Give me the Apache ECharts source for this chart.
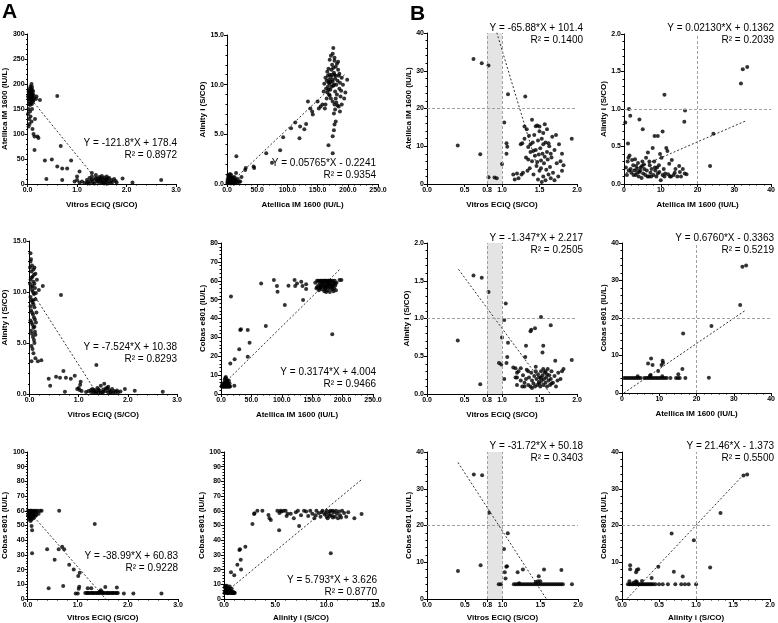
<!DOCTYPE html>
<html><head><meta charset="utf-8">
<script src="https://cdn.jsdelivr.net/npm/echarts@6/dist/echarts.min.js"></script>
<style>html,body{margin:0;padding:0;background:#fff}#c{width:778px;height:623px}</style>
</head><body><div id="c"></div>
<script>
// ---------------- DATA ----------------
// Panel A1: Vitros ECiQ (S/CO) vs Atellica IM 1600 (IU/L)
const A1_POINTS = [[0.02,185],[0.03,178],[0.04,172],[0.05,180],[0.06,175],[0.07,168],[0.08,183],[0.09,176],[0.10,170],[0.11,165],[0.03,160],[0.05,158],[0.02,170],[0.04,190],[0.06,195],[0.08,200],[0.10,188],[0.12,178],[0.13,172],[0.07,162],[0.01,175],[0.09,160],[0.11,185],[0.04,165],[0.06,170],[0.08,174],[0.10,179],[0.12,168],[0.05,186],[0.03,182],[0.07,190],[0.09,194],[0.02,150],[0.01,140],[0.03,130],[0.04,120],[0.02,115],[0.05,145],[0.06,135],[0.08,125],[0.10,110],[0.12,100],[0.14,95],[0.15,130],[0.17,170],[0.18,175],[0.25,168],[0.20,95],[0.22,92],[0.14,68],[0.09,150],
[0.6,176],[0.67,76],[0.35,47],[0.49,49],[0.6,35],[0.7,31],[0.8,31],[0.88,47],[0.38,10],[0.7,8],[1.0,15],[1.05,25],[0.95,5],[1.0,8],[1.3,22],
[1.05,3],[1.1,5],[1.15,2],[1.2,8],[1.22,4],[1.25,12],[1.28,6],[1.3,15],[1.32,3],[1.35,9],[1.38,18],[1.4,5],[1.42,11],[1.45,2],[1.45,14],[1.48,7],[1.5,4],[1.5,16],[1.52,10],[1.55,6],[1.55,13],[1.58,3],[1.6,8],[1.6,15],[1.62,11],[1.65,5],[1.65,12],[1.68,2],[1.7,8],[1.72,4],[1.75,10],[1.78,6],[1.8,3],[1.35,1],[1.25,1],[1.45,9],[1.55,1],[1.38,12],[1.48,12],[1.58,9],[1.42,6],[1.52,2],[1.62,1],[1.3,9],[1.2,2],
[1.92,11],[2.12,3],[2.7,8]];
// Panel A2: Atellica IM 1600 (IU/L) vs Alinity i (S/CO)
const A2_POINTS = [[0.5,0.2],[1,0.5],[2,0.8],[3,0.3],[4,0.1],[5,0.6],[6,0.4],[7,0.9],[8,0.2],[9,0.5],[10,0.1],[11,0.3],[12,0.7],[13,0.2],[14,0.4],[15,1.1],[2,0.1],[3,0.6],[4,0.3],[5,0.2],[6,0.05],[7,0.4],[8,0.6],[9,0.15],[10,0.35],[1,0.05],[2,0.35],[3,0.9],[16,0.3],[17,0.15],[18,0.5],[20,0.2],[12,0.05],[14,0.15],[6,0.7],[5,1.0],[11,0.6],[13,0.45],[24,0.7],[22,0.25],
[162,7.6],[163,8.0],[165,8.6],[166,9.2],[167,9.8],[168,10.2],[169,10.5],[170,11.0],[171,9.5],[172,10.8],[173,11.5],[174,12.0],[175,10.3],[176,9.9],[177,11.2],[178,12.4],[179,10.6],[180,11.8],[181,10.0],[182,9.0],[183,10.4],[184,11.5],[185,10.9],[186,9.6],[187,10.2],[188,8.8],[189,9.4],[190,10.7],[192,10.0],[194,8.6],[196,9.2],[199,10.5],[170,12.5],[172,12.9],[175,13.1],[176,13.7],[178,12.7],[174,11.0],[171,10.3],[173,9.8],[169,9.0],[167,10.9],[165,10.4],[164,9.6],[168,11.6],[177,10.0],[179,9.3],[180,8.6],[181,8.2],[183,7.9],[178,8.0],[175,8.3],[172,8.6],[170,8.9],[166,11.3],[160,9.3],[158,8.0],[155,7.8],[150,8.3],[152,7.6],[163,10.7],[161,10.1],[185,7.8],[184,12.3],[182,12.1],[180,10.9],[176,11.7],[174,10.5],[170,10.1],[168,9.5],[178,11.0],[186,11.1],
[15.5,2.8],[30,1.4],[31,1.6],[44,1.75],[45,1.6],[74.5,2.15],[65,3.1],[88,3.4],[93,4.7],[106,5.6],[113,6.2],[120,4.6],[121,5.8],[128,5.5],[131,6.05],[134,8.3],[138,7.6],[141,7.3],[142,7.0],[168,3.9],[175,4.8],[177,5.4],[178,6.0],[180,6.3],[175,3.1],[177,7.1],[179,7.5],[190,8.0],[187,7.3]];
// Panel A3: Vitros ECiQ (S/CO) vs Alinity i (S/CO)
const A3_POINTS = [[0.02,13.8],[0.03,13.2],[0.05,12.6],[0.04,12.0],[0.06,11.5],[0.02,11.2],[0.08,11.0],[0.1,10.8],[0.03,10.5],[0.05,10.2],[0.07,10.0],[0.09,9.8],[0.02,9.5],[0.04,9.2],[0.06,9.0],[0.08,8.8],[0.1,8.5],[0.03,8.2],[0.05,8.0],[0.07,7.8],[0.09,7.5],[0.02,7.2],[0.04,7.0],[0.06,6.8],[0.08,6.5],[0.03,6.2],[0.05,5.9],[0.07,5.6],[0.09,5.3],[0.11,6.1],[0.12,5.8],[0.1,5.0],[0.04,4.7],[0.06,4.4],[0.08,4.0],[0.12,3.5],[0.04,3.2],[0.17,3.2],[0.24,3.3],[0.1,12.4],[0.12,11.8],[0.11,10.4],[0.13,9.9],[0.12,9.3],[0.14,8.0],[0.11,7.3],[0.13,7.0],[0.01,10.8],[0.01,12.4],[0.15,11.2],[0.19,10.2],[0.27,10.6],[0.08,12.2],[0.06,10.6],[0.04,11.4],[0.09,11.7],[0.02,8.6],[0.07,9.2],[0.1,6.6],[0.02,13.0],
[0.64,9.7],
[0.39,1.5],[0.42,0.8],[0.54,1.7],[0.62,1.6],[0.69,2.25],[0.74,1.6],[0.84,1.5],[0.92,1.8],[0.72,0.23],[0.97,0.5],[1.0,0.6],[1.04,1.2],[1.03,0.9],[1.06,0.3],[1.02,0.4],[1.36,2.85],
[1.2,0.3],[1.25,0.2],[1.28,0.5],[1.3,0.1],[1.32,0.4],[1.35,0.25],[1.38,0.6],[1.4,0.15],[1.42,0.35],[1.45,0.8],[1.48,0.2],[1.5,0.45],[1.52,1.0],[1.55,0.3],[1.58,0.6],[1.6,0.15],[1.62,0.4],[1.65,0.25],[1.68,0.5],[1.7,0.1],[1.72,0.3],[1.75,0.2],[1.78,0.35],[1.8,0.15],[1.85,0.25],[1.3,0.3],[1.4,0.45],[1.5,0.2],[1.6,0.7],[1.45,0.1],[1.55,0.55],[1.35,0.1],[1.25,0.4],[1.15,0.2],[1.65,0.1],
[1.94,0.5],[2.14,0.33],[2.71,0.23]];
// Panel A4: Atellica IM 1600 (IU/L) vs Cobas e801 (IU/L)
const A4_POINTS = [[1,4],[2,4],[3,4],[4,4],[5,4],[6,4],[7,4],[8,4],[9,4],[10,4],[11,4],[12,4],[13,4],[14,4],[15,4],[3,5],[5,6],[6,7.5],[7,8.5],[8,9],[9,8],[10,7.2],[11,6],[12,5],[4,4.5],[6,5.5],[8,6.5],[10,5],[13,7],[14,5.5],[2,5],[7,6],[9,5.5],
[16.4,51.6],[15.3,16.2],[22.4,18.4],[22,4.4],[30,23.7],[31.7,33.9],[32.8,34.3],[44,19.8],[44,33.9],[47,27.2],[66,58.6],[73.7,36],[87,60.4],[92,57.2],[93,54.2],[105,47.2],[111,57.4],[121,60.4],[122,57.2],[125,58.6],[132,59.5],[134,57.2],[135,49.8],[140,58.1],[140,55.6],[183,31.6],[195,60.4],[198,60.4],
[155,59],[157,56],[158,60],[160,57.5],[161,55],[162,59],[163,60],[164,56.5],[165,58],[166,55.5],[167,60],[168,57],[169,59],[170,54.5],[170,60],[171,58],[172,56],[173,60],[174,57.5],[175,55],[175,59],[176,60],[177,56.5],[178,58.5],[179,54],[180,60],[181,57],[182,59],[183,55.5],[184,60],[185,58],[186,56],[187,60],[188,57.5],[189,55],[190,59],[172,60],[178,60],[168,60],[164,60],[174,59.5],[176,58],[180,56],[182,57.5],[170,57],[166,58.5],[186,59],[184,57],[160,60],[158,56.5],[163,57],[177,60],[181,60],[179,58],[171,55.5],[173,54],[185,54.5],[188,58.5],[162,56],[175,57]];
// Panel A5: Vitros ECiQ (S/CO) vs Cobas e801 (IU/L)
const A5_POINTS = [[0.01,60],[0.02,58],[0.03,56],[0.04,59],[0.05,55],[0.06,57],[0.07,60],[0.08,54],[0.09,58],[0.1,56],[0.11,59],[0.12,57],[0.13,60],[0.14,58],[0.15,56.5],[0.16,60],[0.18,59],[0.2,60],[0.22,58],[0.25,60],[0.28,60],[0.02,54],[0.04,56],[0.06,53],[0.08,58.5],[0.03,60],[0.05,59],[0.07,55.5],[0.09,60],[0.1,57.5],[0.12,55],[0.14,59.5],[0.17,57],[0.01,57],[0.06,60],[0.11,56],
[0.08,49.6],[0.09,46.7],[0.09,31.1],[0.39,33.8],[0.42,7.3],[0.54,26.7],[0.63,60],[0.62,33.8],[0.69,35.6],[0.73,33.8],[0.71,8.9],[0.83,23.3],[0.92,20],[0.96,3.8],[1.0,3.8],[1.01,15.6],[1.04,17.8],[1.03,8.4],[1.02,7],[1.34,51.1],[1.2,7.3],[1.27,7.3],[1.46,6],[1.55,8.2],[1.78,7.8],[1.92,3.8],[2.11,3.8],[2.67,3.8],
[1.15,4],[1.18,4],[1.2,4],[1.22,4],[1.25,4],[1.28,4],[1.3,4],[1.32,4],[1.35,4],[1.38,4],[1.4,4],[1.42,4],[1.45,4],[1.48,4],[1.5,4],[1.52,4],[1.55,4],[1.58,4],[1.6,4],[1.62,4],[1.65,4],[1.68,4],[1.7,4],[1.72,4],[1.75,4],[1.78,4],[1.8,4],[1.44,5],[1.48,5]];
// Panel A6: Alinity i (S/CO) vs Cobas e801 (IU/L)
const A6_POINTS = [[0.05,4],[0.1,5],[0.15,7],[0.2,8],[0.25,4],[0.3,6],[0.35,4],[0.4,7.5],[0.45,4],[0.5,5.5],[0.55,8.5],[0.6,4],[0.65,6],[0.7,4],[0.75,7],[0.8,4],[0.85,5],[0.9,4],[0.95,4],[1.0,4.5],[1.05,4],[0.12,9],[0.22,6],[0.32,5],[0.42,4],[0.62,5],[0.08,8],[0.28,9],[0.48,7],
[0.68,18.2],[1.0,16.2],[1.3,23.3],[1.5,33.3],[1.56,33.8],[1.63,26.7],[1.66,20],[2.08,35.6],[2.77,51.1],[2.93,57.8],[2.97,58.4],[3.25,60],[3.74,60],[4.33,57.1],[4.43,54.9],[4.56,53.8],[5.37,46.7],[7.32,49.6],[10.4,31.1],[12.7,54.9],[13.4,57.8],[6.5,58],[6.0,60],
[5.2,60],[5.4,58.5],[5.6,59.5],[5.8,60],[6.2,58],[6.8,55],[7.0,59],[7.5,57],[7.8,60],[8.0,59.5],[8.2,56.5],[8.4,60],[8.6,58],[8.8,55],[9.0,60],[9.2,58.5],[9.4,56],[9.6,60],[9.8,57.5],[10.0,60],[10.1,55],[10.2,58],[10.3,56.5],[10.4,60],[10.5,57],[10.6,55.5],[10.7,59],[10.8,56],[10.9,60],[11.0,58],[11.1,55],[11.2,59.5],[11.3,57],[11.5,60],[11.7,58.5],[11.9,56],[12.1,59],[9.5,59],[10.0,56],[10.6,60],[9.9,58.5],[8.9,57],[11.4,55.5],[10.3,59.5],[7.2,60],[5.5,60],[6.1,56.5]];
// Panel B1: Vitros ECiQ (S/CO) vs Atellica IM 1600 (IU/L), low range
const B1_POINTS = [[0.41,10.2],[0.62,33.1],[0.73,32.0],[0.82,31.4],[0.71,7.9],[0.82,1.8],[0.9,1.7],[0.93,1.5],[1.0,5.3],[1.03,16.3],[1.06,10.8],[1.06,8.0],[1.08,23.8],[1.07,9.9],[1.31,23.2],
[1.2,2.8],[1.22,1.5],[1.25,10.5],[1.27,10.8],[1.28,3.0],[1.3,15.2],[1.3,12.0],[1.32,7.0],[1.33,14.5],[1.34,3.5],[1.35,9.8],[1.36,12.8],[1.37,4.2],[1.38,8.5],[1.4,17.0],[1.4,6.0],[1.41,11.0],[1.42,2.5],[1.43,13.0],[1.44,7.5],[1.45,9.0],[1.46,4.8],[1.47,15.5],[1.48,1.2],[1.48,11.5],[1.49,7.8],[1.5,3.5],[1.5,14.0],[1.51,9.5],[1.52,6.2],[1.53,0.5],[1.53,12.0],[1.54,8.0],[1.55,2.0],[1.55,10.5],[1.56,5.5],[1.57,15.8],[1.57,7.2],[1.58,1.0],[1.58,11.0],[1.59,3.8],[1.6,14.5],[1.6,8.5],[1.61,6.5],[1.62,2.5],[1.63,10.0],[1.64,4.5],[1.65,1.5],[1.66,7.0],[1.67,12.5],[1.68,3.0],[1.7,9.0],[1.72,13.0],[1.73,5.5],[1.75,2.0],[1.76,10.5],[1.78,6.0],[1.8,8.0],[1.8,3.5],[1.82,5.0],[1.93,12.0],[1.45,15.3],[1.5,15.2],[1.55,13.5],[1.15,2.5],[1.17,1.2],[1.35,6.5],[1.42,8.8],[1.52,4.2],[1.47,5.8],[1.62,10.8],[1.38,10.5],[1.7,1.0],[1.65,8.0],[1.26,2.5]];
// Panel B2: Atellica IM 1600 (IU/L) vs Alinity i (S/CO), low range
const B2_POINTS = [[0.36,0.82],[1.08,0.54],[1.35,1.0],[1.7,0.91],[4.2,0.86],[5.1,0.73],[8.3,0.64],[9.2,0.64],[10.5,0.7],[11.0,1.19],[16.4,0.83],[16.6,0.98],[24.3,0.67],[23.4,0.24],[31.8,1.34],[32.3,1.53],[33.5,1.56],
[0.5,0.22],[0.8,0.12],[1.0,0.3],[1.2,0.35],[1.5,0.38],[1.8,0.2],[2.0,0.15],[2.2,0.32],[2.5,0.25],[2.8,0.18],[3.0,0.33],[3.2,0.12],[3.5,0.2],[3.8,0.28],[4.0,0.1],[4.2,0.16],[4.5,0.22],[4.8,0.08],[5.0,0.3],[5.2,0.14],[5.5,0.2],[5.8,0.12],[6.0,0.35],[6.2,0.18],[6.5,0.42],[6.8,0.1],[7.0,0.25],[7.2,0.15],[7.5,0.2],[7.8,0.48],[8.0,0.12],[8.2,0.3],[8.5,0.18],[8.8,0.1],[9.0,0.22],[9.2,0.14],[9.5,0.25],[9.8,0.4],[10.0,0.05],[10.2,0.35],[10.5,0.12],[10.8,0.2],[11.0,0.1],[11.5,0.48],[11.8,0.44],[12.0,0.13],[12.3,0.27],[12.5,0.1],[13.0,0.32],[13.5,0.12],[14.0,0.2],[14.5,0.1],[15.0,0.24],[15.2,0.16],[15.5,0.1],[16.0,0.2],[16.5,0.14],[17.0,0.13],[3.3,0.24],[4.4,0.18],[5.4,0.26],[6.4,0.1],[7.4,0.1],[8.4,0.22],[2.6,0.12],[1.3,0.18],[9.6,0.16],[11.2,0.14],[12.8,0.1],[13.8,0.15],[6.9,0.3],[3.6,0.15],[4.9,0.24]];
// Panel B3: Vitros ECiQ (S/CO) vs Alinity i (S/CO), low range
const B3_POINTS = [[0.41,0.71],[0.62,1.57],[0.73,1.54],[0.71,0.13],[0.82,1.35],[0.96,0.41],[0.99,0.39],[1.0,0.75],[1.03,0.98],[1.05,1.2],[1.03,0.2],[1.06,0.41],[1.07,0.49],[1.08,0.68],[1.18,0.34],[1.2,0.28],[1.32,0.64],[1.31,0.49],[1.38,0.83],[1.39,0.85],[1.44,0.87],[1.52,1.02],[1.55,0.64],[1.54,0.55],[1.65,0.91],[1.71,0.44],[1.93,0.45],
[1.15,0.35],[1.18,0.22],[1.2,0.12],[1.22,0.3],[1.25,0.18],[1.27,0.1],[1.28,0.25],[1.3,0.15],[1.32,0.2],[1.33,0.32],[1.35,0.12],[1.36,0.22],[1.38,0.1],[1.39,0.28],[1.4,0.18],[1.42,0.14],[1.43,0.24],[1.44,0.1],[1.45,0.3],[1.46,0.2],[1.47,0.12],[1.48,0.26],[1.49,0.16],[1.5,0.22],[1.51,0.1],[1.52,0.3],[1.53,0.18],[1.54,0.25],[1.55,0.12],[1.56,0.2],[1.57,0.28],[1.58,0.15],[1.59,0.22],[1.6,0.1],[1.61,0.33],[1.62,0.18],[1.63,0.25],[1.64,0.12],[1.65,0.2],[1.66,0.3],[1.68,0.15],[1.7,0.24],[1.72,0.1],[1.74,0.18],[1.75,0.28],[1.78,0.2],[1.8,0.3],[1.82,0.33],[1.25,0.34],[1.35,0.3],[1.45,0.36],[1.55,0.33],[1.4,0.08],[1.5,0.14],[1.6,0.26],[1.3,0.1],[1.2,0.22],[1.52,0.22],[1.58,0.3],[1.66,0.14]];
// Panel B4: Atellica IM 1600 (IU/L) vs Cobas e801 (IU/L), low range
const B4_POINTS = [[0.5,4],[1,4],[1.5,4],[2,4],[2.5,4],[3,4],[3.5,4],[4,4],[4.5,4],[5,4],[6,4],[6.5,4],[7,4],[7.5,4],[8,4],[8.5,4],[9,4],[9.5,4],[10,4],[10.5,4],[11,4],[11.5,4],[12,4],[13,4],[14.5,4],[15,4],[15.5,4],[17,4],[4.2,4.5],[7.5,4.6],
[7.0,7.9],[7.8,9.2],[8.2,7.5],[7.7,4.8],[9.7,5.9],[10.9,8.6],[10.6,7.5],[11.0,8.1],[10.8,4.5],[15.1,5.0],[16.2,6.4],[16.4,15.9],[24.0,17.9],[23.3,4.1],[31.7,23.5],[32.3,33.7],[33.3,34.0]];
// Panel B5: Vitros ECiQ (S/CO) vs Cobas e801 (IU/L), low range
const B5_POINTS = [[0.41,7.6],[0.62,33.9],[0.73,33.7],[0.71,9.2],[0.82,23.5],[0.95,4.0],[0.98,4.0],[1.02,13.6],[1.07,17.9],[1.03,7.3],[1.04,5.6],[1.05,8.8],[1.06,8.9],[1.2,7.3],[1.22,4.3],[1.27,8.0],[1.48,6.2],[1.55,8.0],[1.78,7.9],[1.92,4.0],[1.44,4.6],[1.47,4.8],[1.5,4.8],
[1.15,4],[1.175,4],[1.2,4],[1.225,4],[1.25,4],[1.275,4],[1.3,4],[1.325,4],[1.35,4],[1.375,4],[1.4,4],[1.425,4],[1.45,4],[1.475,4],[1.5,4],[1.525,4],[1.55,4],[1.575,4],[1.6,4],[1.625,4],[1.65,4],[1.675,4],[1.7,4],[1.725,4],[1.75,4],[1.775,4],[1.8,4]];
// Panel B6: Alinity i (S/CO) vs Cobas e801 (IU/L), low range
const B6_POINTS = [[0.08,4],[0.1,4],[0.12,4],[0.14,4],[0.16,4],[0.18,4],[0.2,4],[0.22,4],[0.24,4],[0.26,4],[0.28,4],[0.3,4],[0.32,4],[0.34,4],[0.36,4],[0.38,4],[0.4,4],[0.42,4],[0.45,4],[0.5,4],[0.55,4],[0.62,4],[0.72,4],[0.8,4],[0.85,4],[0.9,4],[1.0,4],[0.1,4.8],[0.16,4.5],[0.2,4.6],
[0.11,9.2],[0.11,8.1],[0.19,7.3],[0.2,7.9],[0.22,8.1],[0.19,4.8],[0.27,4.9],[0.4,5.7],[0.49,8.8],[0.67,17.8],[0.7,7.4],[0.82,6.1],[0.97,16.0],[1.19,8.6],[1.33,23.4],[1.64,33.6],[1.69,33.9]];

// regression: slope, intercept, fitted x-range start, end
const FIT_SLOPE     = [-121.8, 0.05765, -7.524, 0.3174, -38.99, 5.793, -65.88, 0.02130, -1.347, 0.6760, -31.72, 21.46];
const FIT_INTERCEPT = [178.4, -0.2241, 10.38, 4.004, 60.83, 3.626, 101.4, 0.1362, 2.217, -0.3363, 50.18, -1.373];
const FIT_XSTART    = [0.08, 0, 0.07, 5, 0.08, 0.6, 0.93, 0.5, 0.42, 0.5, 0.41, 0.07];
const FIT_XEND      = [1.3, 197, 1.3, 197, 1.56, 13.5, 1.47, 33.3, 1.64, 33.1, 1.58, 1.62];
const EQ_TEXT = ['Y = -121.8*X + 178.4','Y = 0.05765*X - 0.2241','Y = -7.524*X + 10.38','Y = 0.3174*X + 4.004','Y = -38.99*X + 60.83','Y = 5.793*X + 3.626',
                 'Y = -65.88*X + 101.4','Y = 0.02130*X + 0.1362','Y = -1.347*X + 2.217','Y = 0.6760*X - 0.3363','Y = -31.72*X + 50.18','Y = 21.46*X - 1.373'];
const R2_TEXT = ['R² = 0.8972','R² = 0.9354','R² = 0.8293','R² = 0.9466','R² = 0.9228','R² = 0.8770',
                 'R² = 0.1400','R² = 0.2039','R² = 0.2505','R² = 0.5219','R² = 0.3403','R² = 0.5500'];
const X_NAMES = ['Vitros ECiQ (S/CO)','Atellica IM 1600 (IU/L)','Vitros ECiQ (S/CO)','Atellica IM 1600 (IU/L)','Vitros ECiQ (S/CO)','Alinity i (S/CO)',
                 'Vitros ECiQ (S/CO)','Atellica IM 1600 (IU/L)','Vitros ECiQ (S/CO)','Atellica IM 1600 (IU/L)','Vitros ECiQ (S/CO)','Alinity i (S/CO)'];
const Y_NAMES = ['Atellica IM 1600 (IU/L)','Alinity i (S/CO)','Alinity i (S/CO)','Cobas e801 (IU/L)','Cobas e801 (IU/L)','Cobas e801 (IU/L)',
                 'Atellica IM 1600 (IU/L)','Alinity i (S/CO)','Alinity i (S/CO)','Cobas e801 (IU/L)','Cobas e801 (IU/L)','Cobas e801 (IU/L)'];
// axis ranges: [min, max, interval, decimals]
const X_AXES = [[0,3,1,1],[0,250,50,1],[0,3,1,1],[0,250,50,1],[0,3,1,1],[0,15,5,1],
                [0,2,0.5,1],[0,40,10,0],[0,2,0.5,1],[0,40,10,0],[0,2,0.5,1],[0,2,0.5,1]];
const Y_AXES = [[0,300,50,0],[0,15,5,1],[0,15,5,1],[0,80,10,0],[0,100,10,0],[0,100,10,0],
                [0,40,10,0],[0,2,0.5,1],[0,2,0.5,1],[0,40,10,0],[0,40,10,0],[0,40,10,0]];
const VITROS_TICKS = [0, 0.5, 0.8, 1.0, 1.5, 2.0];
const GREY_ZONE = [0.8, 1.0];
// reference cut-offs for B panels
const REF_X = [null,null,null,null,null,null, null, 20, null, 20, null, 1.0];
const REF_Y = [null,null,null,null,null,null, 20, 1.0, 1.0, 20, 20, 20];
const HAS_ZONE = [false,false,false,false,false,false, true,false,true,false,true,false];
const ALL_POINTS = [A1_POINTS,A2_POINTS,A3_POINTS,A4_POINTS,A5_POINTS,A6_POINTS,B1_POINTS,B2_POINTS,B3_POINTS,B4_POINTS,B5_POINTS,B6_POINTS];

// ---------------- LAYOUT ----------------
const GRIDS = [[26,34,150,150],[227,35,151,149],[26,241,151,153],[221,243,152,151],[26,452,152,150],[224,452,154,150],
               [427,33,150,151],[624,34,148,150],[427,243,150,151],[622,243,150,150],[427,452,151,150],[622,452,151,149]];
const Y_NAME_GAP = [14,16,15,11,15,14, 10,12,11,12,10,12];
const X_NAME_GAP = [17,17,17,17,17,17, 15,15,15,15,15,15];
const X_NAME_GAP_ROW3 = 15;
const EQ_POS = [[177,143],[376,163],[177,347],[376,372],[178,556],[377,580],
                [583,28],[774,28],[583,238],[774,238],[583,446],[774,446]];
const FONT = '"Liberation Sans", Arial, sans-serif';

const option = {backgroundColor:'#fff', animation:false, grid:[], xAxis:[], yAxis:[], series:[], graphic:[]};

function makeAxis(i, r, name, isX, custom, gap) {
  const a = {
    type:'value', gridIndex:i, min:r[0], max:r[1], interval:r[2],
    name:name, nameLocation:'middle', nameGap: gap,
    nameTextStyle:{fontFamily:FONT, fontWeight:'bold', fontSize:8, color:'#000'},
    axisLine:{show:true, onZero:false, lineStyle:{color:'#000', width:1}},
    axisTick:{show:true, length:3, lineStyle:{color:'#000', width:1}},
    minorTick:{show:true, splitNumber:5, length:1.5, lineStyle:{color:'#000', width:1}},
    splitLine:{show:false},
    axisLabel:{fontFamily:FONT, fontWeight:'bold', fontSize:7, color:'#000', margin:3, hideOverlap:false,
               showMinLabel:true, showMaxLabel:true, formatter:(v)=>Number(v).toFixed(r[3])}
  };
  if (!isX) a.nameRotate = 90;
  if (custom) {
    a.axisLabel.customValues = custom;
    a.axisTick.customValues = custom;
    a.minorTick.show = false;
  }
  return a;
}

for (let i = 0; i < 12; i++) {
  const g = GRIDS[i];
  const row = (i < 6) ? Math.floor(i / 2) : Math.floor((i - 6) / 2);
  option.grid.push({left:g[0], top:g[1], width:g[2], height:g[3], containLabel:false});
  const vitrosB = (i === 6 || i === 8 || i === 10);
  const xGap = row === 2 ? X_NAME_GAP_ROW3 : X_NAME_GAP[i] + (i >= 6 ? 2 : 0);
  option.xAxis.push(makeAxis(i, X_AXES[i], X_NAMES[i], true, vitrosB ? VITROS_TICKS : null, xGap));
  option.yAxis.push(makeAxis(i, Y_AXES[i], Y_NAMES[i], false, null, Y_NAME_GAP[i]));

  if (HAS_ZONE[i] || REF_X[i] !== null || REF_Y[i] !== null) {
    const ml = [];
    if (REF_Y[i] !== null) ml.push({yAxis: REF_Y[i]});
    if (REF_X[i] !== null) ml.push({xAxis: REF_X[i]});
    if (HAS_ZONE[i]) { ml.push({xAxis: GREY_ZONE[0]}); ml.push({xAxis: GREY_ZONE[1]}); }
    option.series.push({
      type:'line', xAxisIndex:i, yAxisIndex:i, data:[], silent:true, z:1,
      markArea: HAS_ZONE[i] ? {silent:true, itemStyle:{color:'#e4e4e4'}, data:[[{xAxis:GREY_ZONE[0]},{xAxis:GREY_ZONE[1]}]]} : undefined,
      markLine:{silent:true, symbol:'none', animation:false, label:{show:false},
                lineStyle:{type:[3,2], color:'#a0a0a0', width:1}, data:ml}
    });
  }
  const x0 = FIT_XSTART[i], x1 = FIT_XEND[i];
  option.series.push({
    type:'line', xAxisIndex:i, yAxisIndex:i, z:3, silent:true, symbol:'none',
    lineStyle:{color:'#333', width:1, type:[2,2]},
    data:[[x0, FIT_SLOPE[i]*x0 + FIT_INTERCEPT[i]], [x1, FIT_SLOPE[i]*x1 + FIT_INTERCEPT[i]]]
  });
  option.series.push({
    type:'scatter', xAxisIndex:i, yAxisIndex:i, z:4, symbol:'circle', symbolSize:4,
    itemStyle:{color:'#000'}, data: ALL_POINTS[i]
  });
  const p = EQ_POS[i];
  option.graphic.push({type:'text', x:p[0], y:p[1], z:10,
    style:{text:EQ_TEXT[i], textAlign:'right', textVerticalAlign:'middle', font:'10px ' + FONT, fill:'#000'}});
  option.graphic.push({type:'text', x:p[0], y:p[1] + 12.5, z:10,
    style:{text:R2_TEXT[i], textAlign:'right', textVerticalAlign:'middle', font:'10px ' + FONT, fill:'#000'}});
}
option.graphic.push({type:'text', x:2, y:12, style:{text:'A', textVerticalAlign:'middle', font:'bold 21px ' + FONT, fill:'#000'}});
option.graphic.push({type:'text', x:410, y:14, style:{text:'B', textVerticalAlign:'middle', font:'bold 21px ' + FONT, fill:'#000'}});

const chart = echarts.init(document.getElementById('c'), null, {renderer:'canvas'});
chart.setOption(option);
</script></body></html>
